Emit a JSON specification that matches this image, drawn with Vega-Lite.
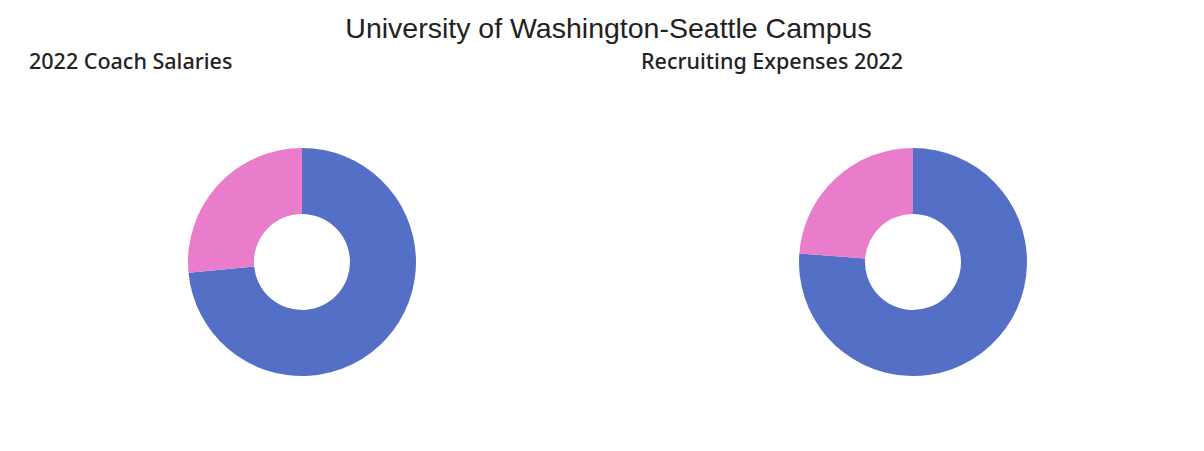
{
  "$schema": "https://vega.github.io/schema/vega-lite/v6.json",
  "background": "white",
  "padding": {"left": 0, "top": 15, "right": 0, "bottom": 0},
  "title": {
    "text": "University of Washington-Seattle Campus",
    "font": "Liberation Sans",
    "fontSize": 28.5,
    "fontWeight": "normal",
    "color": "#222222",
    "anchor": "middle",
    "dx": 7,
    "offset": 8
  },
  "datasets": {
    "coach": [
      {"gender": "Men", "share": 73.5},
      {"gender": "Women", "share": 26.5}
    ],
    "recruit": [
      {"gender": "Men", "share": 76.2},
      {"gender": "Women", "share": 23.8}
    ]
  },
  "spacing": 19,
  "hconcat": [
    {
      "width": 604,
      "height": 372,
      "title": {"text": "2022 Coach Salaries", "anchor": "start", "dx": 29, "offset": 3},
      "data": {"name": "coach"},
      "mark": {"type": "arc", "outerRadius": 114, "innerRadius": 48},
      "encoding": {
        "theta": {"field": "share", "type": "quantitative", "stack": true},
        "order": {"field": "gender", "sort": "ascending"},
        "color": {
          "field": "gender",
          "type": "nominal",
          "scale": {"domain": ["Men", "Women"], "range": ["#5470c6", "#ea7ccc"]},
          "legend": null
        }
      }
    },
    {
      "width": 580,
      "height": 372,
      "title": {"text": "Recruiting Expenses 2022", "anchor": "start", "dx": 18, "offset": 3},
      "data": {"name": "recruit"},
      "mark": {"type": "arc", "outerRadius": 114, "innerRadius": 48},
      "encoding": {
        "theta": {"field": "share", "type": "quantitative", "stack": true},
        "order": {"field": "gender", "sort": "ascending"},
        "color": {
          "field": "gender",
          "type": "nominal",
          "scale": {"domain": ["Men", "Women"], "range": ["#5470c6", "#ea7ccc"]},
          "legend": null
        }
      }
    }
  ],
  "config": {
    "view": {"stroke": null},
    "title": {"font": "Noto Sans", "fontSize": 21.5, "fontWeight": 500, "color": "#222222"}
  }
}
